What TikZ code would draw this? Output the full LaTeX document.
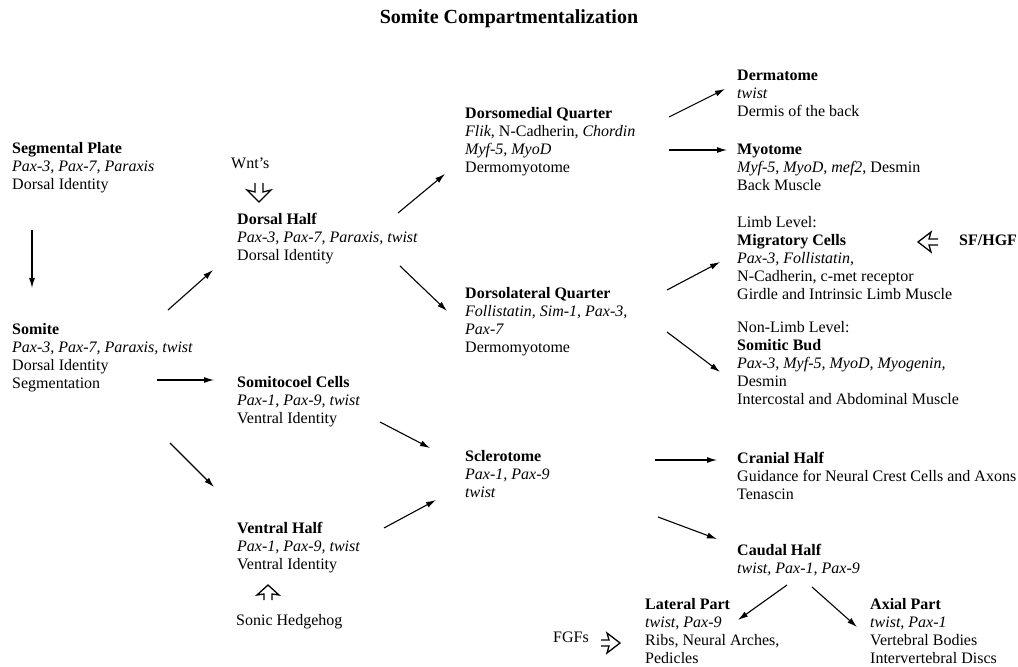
\documentclass[tikz,border=0pt]{standalone}
\usepackage{fontspec}
\setmainfont{Liberation Serif}
\usetikzlibrary{arrows.meta}
\begin{document}
\begin{tikzpicture}[x=1pt,y=-1pt,
  txt/.style={anchor=north west, inner sep=0pt, align=left, font=\fontsize{16}{18}\selectfont},
  conn/.style={-{Latex[length=10pt,width=6pt]}, line width=1.1pt},
  openarrow/.style={draw, line width=1.3pt, line join=miter}]
\useasboundingbox (0,0) rectangle (1018,667);

\node[font=\bfseries\fontsize{20}{22}\selectfont] (title) at (509,19) {Somite Compartmentalization};

\node[txt] (segplate) at (12,142) {\textbf{Segmental Plate}\\\textit{Pax-3, Pax-7, Paraxis}\\Dorsal Identity};
\node[txt] (somite) at (12,323) {\textbf{Somite}\\\textit{Pax-3, Pax-7, Paraxis, twist}\\Dorsal Identity\\Segmentation};

\node[txt] (wnt) at (231,158) {Wnt's};
% open arrow pointing down (Wnt's)
\draw[openarrow] (255,183) -- (255,192) -- (247,190) -- (259,202) -- (271,190) -- (263,192) -- (263,183);

\node[txt] (dorsal) at (237,213) {\textbf{Dorsal Half}\\\textit{Pax-3, Pax-7, Paraxis, twist}\\Dorsal Identity};
\node[txt] (somitocoel) at (237,376) {\textbf{Somitocoel Cells}\\\textit{Pax-1, Pax-9, twist}\\Ventral Identity};
\node[txt] (ventral) at (237,522) {\textbf{Ventral Half}\\\textit{Pax-1, Pax-9, twist}\\Ventral Identity};

% open arrow pointing up (Sonic Hedgehog)
\draw[openarrow] (264,600) -- (264,594) -- (257,595) -- (268,585) -- (279,595) -- (272,594) -- (272,600);
\node[txt] (shh) at (236,614) {Sonic Hedgehog};

\node[txt] (dmq) at (465,107) {\textbf{Dorsomedial Quarter}\\\textit{Flik}, N-Cadherin, \textit{Chordin}\\\textit{Myf-5, MyoD}\\Dermomyotome};
\node[txt] (dlq) at (465,287) {\textbf{Dorsolateral Quarter}\\\textit{Follistatin, Sim-1, Pax-3,}\\\textit{Pax-7}\\Dermomyotome};
\node[txt] (scl) at (465,450) {\textbf{Sclerotome}\\\textit{Pax-1, Pax-9}\\\textit{twist}};

\node[txt] (derm) at (737,70) {\textbf{Dermatome}\\\textit{twist}\\Dermis of the back};
\node[txt] (myo) at (737,144) {\textbf{Myotome}\\\textit{Myf-5}, \textit{MyoD}, \textit{mef2}, Desmin\\Back Muscle};
\node[txt] (limb) at (737,216) {Limb Level:\\\textbf{Migratory Cells}\\\textit{Pax-3, Follistatin,}\\N-Cadherin, c-met receptor\\Girdle and Intrinsic Limb Muscle};
% open arrow pointing left (SF/HGF)
\draw[openarrow] (938,239) -- (929,239) -- (931,232) -- (918,242) -- (931,252) -- (929,245) -- (938,245);
\node[txt, font=\bfseries\fontsize{16}{18}\selectfont] (sfhgf) at (959,235) {SF/HGF};
\node[txt] (nonlimb) at (737,321) {Non-Limb Level:\\\textbf{Somitic Bud}\\\textit{Pax-3, Myf-5, MyoD, Myogenin,}\\Desmin\\Intercostal and Abdominal Muscle};

\node[txt] (cranial) at (737,452) {\textbf{Cranial Half}\\Guidance for Neural Crest Cells and Axons\\Tenascin};
\node[txt] (caudal) at (737,544) {\textbf{Caudal Half}\\\textit{twist, Pax-1, Pax-9}};

\node[txt] (lateral) at (645,598) {\textbf{Lateral Part}\\\textit{twist, Pax-9}\\Ribs, Neural Arches,\\Pedicles};
\node[txt] (axial) at (870,598) {\textbf{Axial Part}\\\textit{twist, Pax-1}\\Vertebral Bodies\\Intervertebral Discs};

\node[txt] (fgf) at (553,632) {FGFs};
% open arrow pointing right (FGFs)
\draw[openarrow] (601,640) -- (609,640) -- (607,633) -- (620,643) -- (607,653) -- (609,646) -- (601,646);

% connectors
\draw[conn] ([shift={(20,88)}]segplate.north west) -- ([shift={(20,-35)}]somite.north west);
\draw[conn] ([shift={(156,-13)}]somite.north west) -- ([shift={(-24,57)}]dorsal.north west);
\draw[conn] ([shift={(145,57)}]somite.north west) -- ([shift={(-23,4)}]somitocoel.north west);
\draw[conn] ([shift={(158,120)}]somite.north west) -- ([shift={(-23,-35)}]ventral.north west);
\draw[conn] ([shift={(161,0)}]dorsal.north west) -- ([shift={(-20,67)}]dmq.north west);
\draw[conn] ([shift={(163,53)}]dorsal.north west) -- ([shift={(-18,24)}]dlq.north west);
\draw[conn] ([shift={(143,46)}]somitocoel.north west) -- ([shift={(-35,-2)}]scl.north west);
\draw[conn] ([shift={(147,6)}]ventral.north west) -- ([shift={(-29,50)}]scl.north west);
\draw[conn] ([shift={(204,10)}]dmq.north west) -- ([shift={(-12,19)}]derm.north west);
\draw[conn] ([shift={(204,43)}]dmq.north west) -- ([shift={(-10,6)}]myo.north west);
\draw[conn] ([shift={(202,3)}]dlq.north west) -- ([shift={(-17,46)}]limb.north west);
\draw[conn] ([shift={(202,45)}]dlq.north west) -- ([shift={(-17,51)}]nonlimb.north west);
\draw[conn] ([shift={(190,10)}]scl.north west) -- ([shift={(-20,8)}]cranial.north west);
\draw[conn] ([shift={(193,67)}]scl.north west) -- ([shift={(-20,-5)}]caudal.north west);
\draw[conn] ([shift={(50,41)}]caudal.north west) -- ([shift={(93,22)}]lateral.north west);
\draw[conn] ([shift={(75,43)}]caudal.north west) -- ([shift={(-13,29)}]axial.north west);
\end{tikzpicture}
\end{document}
